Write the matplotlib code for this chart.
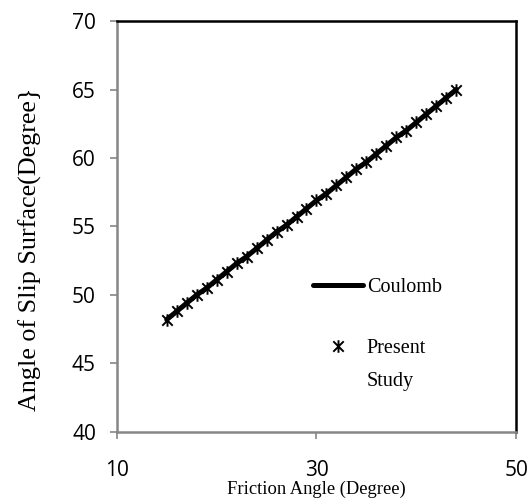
import matplotlib
matplotlib.use("Agg")
import matplotlib.pyplot as plt
from matplotlib.path import Path

# friction angle (deg) and angle of slip surface (deg)
friction_angle = [15, 16, 17, 18, 19, 20, 21, 22, 23, 24,
                  25, 26, 27, 28, 29, 30, 31, 32, 33, 34,
                  35, 36, 37, 38, 39, 40, 41, 42, 43, 44]
slip_angle = [48.2, 48.8, 49.4, 50.0, 50.5, 51.1, 51.7, 52.3, 52.8, 53.4,
              54.0, 54.6, 55.1, 55.7, 56.3, 56.9, 57.4, 58.0, 58.6, 59.2,
              59.7, 60.3, 60.9, 61.5, 62.0, 62.6, 63.2, 63.8, 64.4, 65.0]

x_ticks = [10, 30, 50]
y_ticks = [40, 45, 50, 55, 60, 65, 70]

# Excel style "star" marker: an x with a vertical bar
star = Path([(-1, -1), (1, 1), (-1, 1), (1, -1), (0, -1.2), (0, 1.2)],
            [Path.MOVETO, Path.LINETO, Path.MOVETO, Path.LINETO, Path.MOVETO, Path.LINETO])

serif = "Liberation Serif"
sans = "Open Sans"
gray = "#868686"

fig = plt.figure(figsize=(5.31, 5.01), dpi=100)
ax = fig.add_axes([0.220, 0.138, 0.752, 0.820])

ax.plot(friction_angle, slip_angle, color="black", lw=3.6, solid_capstyle="round",
        label="Coulomb", zorder=2)
ax.plot(friction_angle, slip_angle, ls="none", marker=star, ms=9, mew=1.4,
        color="black", label="Present", zorder=3)

ax.set_xlim(10, 50)
ax.set_ylim(40, 70)
ax.set_xticks(x_ticks)
ax.set_yticks(y_ticks)
ax.tick_params(direction="out", length=5, width=1.2, color=gray, labelsize=15)
ax.tick_params(axis="y", pad=10)
ax.tick_params(axis="x", pad=15)
for lab in ax.get_xticklabels() + ax.get_yticklabels():
    lab.set_fontfamily(sans)

ax.spines["left"].set_color(gray)
ax.spines["bottom"].set_color(gray)
for side in ["left", "bottom", "top", "right"]:
    ax.spines[side].set_linewidth(1.8)

ax.set_xlabel("Friction Angle (Degree)", fontfamily=serif, fontsize=13.3, labelpad=0)
ax.set_ylabel("Angle of Slip Surface(Degree}", fontfamily=serif, fontsize=18.8)
ax.yaxis.set_label_coords(-0.188, 0.445)

leg = ax.legend(loc="upper left", bbox_to_anchor=(0.47, 0.395), frameon=False,
                prop={"family": serif, "size": 14.5}, handlelength=2.5, handletextpad=0.2,
                labelspacing=2.1, borderaxespad=0)

# second line of the "Present Study" label, placed under "Present"
fig.canvas.draw()
bb = leg.get_texts()[1].get_window_extent().transformed(ax.transAxes.inverted())
ax.text(bb.x0, bb.y0 - 0.08, "Study", transform=ax.transAxes,
        fontfamily=serif, fontsize=14.5, ha="left", va="bottom")

fig.savefig("out.png", dpi=100)
